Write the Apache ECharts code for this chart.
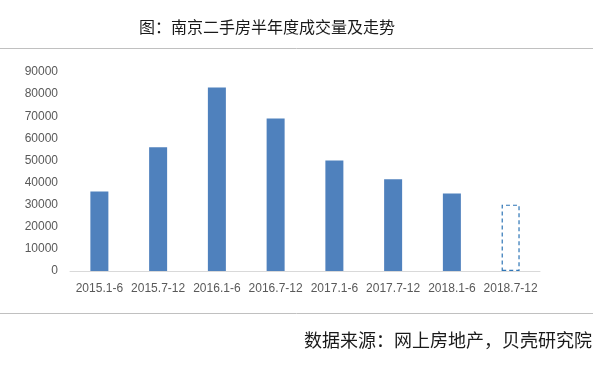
<!DOCTYPE html>
<html>
<head>
<meta charset="utf-8">
<script src="https://cdn.jsdelivr.net/npm/echarts@6/dist/echarts.min.js"></script>
<style>html,body{margin:0;padding:0;background:#fff;}#c{width:607px;height:366px;}</style>
</head>
<body>
<div id="c"></div>
<script>
var titleText = '图：南京二手房半年度成交量及走势';
var sourceText = '数据来源：网上房地产，贝壳研究院';
var categories = ['2015.1-6','2015.7-12','2016.1-6','2016.7-12','2017.1-6','2017.7-12','2018.1-6','2018.7-12'];
var actualValues = [36000, 56000, 83000, 69000, 50000, 41500, 35000, null];
var forecastValues = [null, null, null, null, null, null, null, 30000];
var yTicks = [0, 10000, 20000, 30000, 40000, 50000, 60000, 70000, 80000, 90000];

var chart = echarts.init(document.getElementById('c'), null, {renderer: 'canvas'});
chart.setOption({
  backgroundColor: '#fff',
  animation: false,
  title: {
    text: titleText,
    left: 262, top: 14,
    textAlign: 'center',
    textStyle: {fontFamily: 'Noto Sans CJK SC', fontSize: 16, fontWeight: 'normal', color: '#1a1a1a'}
  },
  graphic: [
    {type: 'line', shape: {x1: 0, y1: 48.5, x2: 593, y2: 48.5}, style: {stroke: '#c0c0c0', lineWidth: 1}},
    {type: 'line', shape: {x1: 0, y1: 313.5, x2: 593, y2: 313.5}, style: {stroke: '#c0c0c0', lineWidth: 1}},
    {type: 'text', right: 15, top: 331, style: {text: sourceText, font: '18px "Noto Sans CJK SC"', fill: '#1a1a1a'}}
  ],
  grid: {left: 70, right: 67, top: 72, bottom: 95, containLabel: false},
  xAxis: {
    type: 'category',
    data: categories,
    axisLine: {lineStyle: {color: '#d9d9d9', width: 1}},
    axisTick: {show: false},
    axisLabel: {color: '#595959', fontSize: 12, fontFamily: 'Liberation Sans', margin: 12, interval: 0}
  },
  yAxis: {
    type: 'value',
    min: yTicks[0], max: yTicks[yTicks.length - 1], interval: yTicks[1] - yTicks[0],
    axisLine: {show: false},
    axisTick: {show: false},
    splitLine: {show: false},
    axisLabel: {color: '#595959', fontSize: 12, fontFamily: 'Liberation Sans', margin: 12,
      formatter: function (v) { return String(v); }}
  },
  series: [
    {type: 'bar', data: actualValues, barWidth: 18, barGap: '-100%',
     itemStyle: {color: '#4f81bd'}},
    {type: 'bar', data: forecastValues, barWidth: 18, barGap: '-100%',
     itemStyle: {color: 'rgba(0,0,0,0)', borderColor: '#2e75b6', borderWidth: 1.2, borderType: [4, 3]}}
  ]
});
</script>
</body>
</html>
